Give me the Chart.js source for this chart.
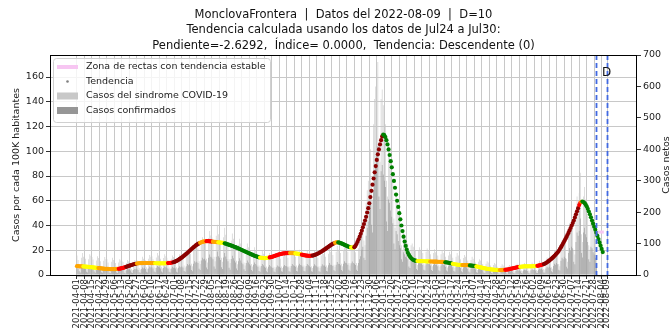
<!DOCTYPE html>
<html>
<head>
<meta charset="utf-8">
<script src="https://cdn.jsdelivr.net/npm/chart.js@4.4.1/dist/chart.umd.min.js"></script>
<style>
  body { margin: 0; background: #fff; }
</style>
</head>
<body>
<canvas id="chart" width="672" height="334"></canvas>
<script>
// day 0 of every series
const startDate = '2021-04-01';

const titleLines = [
  'MonclovaFrontera  |  Datos del 2022-08-09  |  D=10',
  'Tendencia calculada usando los datos de Jul24 a Jul30:',
  'Pendiente=-2.6292,  Índice= 0.0000,  Tendencia: Descendente (0)'
];

const tickLabels = [
  '2021-04-01','2021-04-08','2021-04-15','2021-04-22','2021-04-29','2021-05-06','2021-05-13','2021-05-20',
  '2021-05-27','2021-06-03','2021-06-10','2021-06-17','2021-06-24','2021-07-01','2021-07-08','2021-07-15',
  '2021-07-22','2021-07-29','2021-08-05','2021-08-12','2021-08-19','2021-08-26','2021-09-02','2021-09-09',
  '2021-09-16','2021-09-23','2021-09-30','2021-10-07','2021-10-14','2021-10-21','2021-10-28','2021-11-04',
  '2021-11-11','2021-11-18','2021-11-25','2021-12-02','2021-12-09','2021-12-16','2021-12-23','2021-12-30',
  '2022-01-06','2022-01-13','2022-01-20','2022-01-27','2022-02-03','2022-02-10','2022-02-17','2022-02-24',
  '2022-03-03','2022-03-10','2022-03-17','2022-03-24','2022-03-31','2022-04-07','2022-04-14','2022-04-21',
  '2022-04-28','2022-05-05','2022-05-12','2022-05-19','2022-05-26','2022-06-02','2022-06-09','2022-06-16',
  '2022-06-23','2022-06-30','2022-07-07','2022-07-14','2022-07-21','2022-07-28','2022-08-04','2022-08-09'
];

// smoothed cases per 100K, one value per day from startDate
const trendValues = [
  7.1,7.1,7.0,7.0,7.0,6.9,6.9,6.8,6.8,6.7, 6.6,6.5,6.4,6.3,6.2,6.1,6.0,5.9,5.8,5.7,
  5.6,5.5,5.4,5.3,5.2,5.1,5.0,5.0,4.9,4.9, 4.8,4.8,4.8,4.8,4.8,4.8,4.8,4.9,4.9,5.0,
  5.1,5.3,5.5,5.7,6.0,6.3,6.6,6.9,7.2,7.5, 7.8,8.1,8.4,8.7,8.9,9.1,9.3,9.4,9.5,9.6,
  9.6,9.6,9.7,9.7,9.7,9.7,9.7,9.7,9.7,9.7, 9.6,9.6,9.6,9.5,9.5,9.5,9.4,9.4,9.4,9.4,
  9.4,9.4,9.4,9.5,9.5,9.6,9.7,9.8,9.9,10.1, 10.3,10.6,11.0,11.4,11.9,12.4,13.0,13.6,14.2,14.9,
  15.6,16.3,17.0,17.8,18.6,19.4,20.2,21.0,21.8,22.5, 23.2,23.9,24.5,25.1,25.6,26.0,26.4,26.7,26.9,27.1,
  27.2,27.3,27.3,27.3,27.2,27.1,27.0,26.9,26.8,26.7, 26.6,26.5,26.4,26.3,26.2,26.1,26.0,25.8,25.6,25.3,
  25.0,24.7,24.4,24.1,23.8,23.5,23.2,22.8,22.5,22.1, 21.8,21.4,21.0,20.6,20.2,19.8,19.4,19.0,18.6,18.2,
  17.8,17.4,17.0,16.6,16.2,15.8,15.5,15.2,14.9,14.6, 14.3,14.1,13.9,13.8,13.7,13.7,13.7,13.8,13.9,14.0,
  14.2,14.4,14.6,14.9,15.2,15.5,15.8,16.1,16.4,16.7, 16.9,17.1,17.3,17.4,17.5,17.6,17.6,17.7,17.7,17.7,
  17.7,17.6,17.6,17.5,17.4,17.3,17.2,17.0,16.8,16.6, 16.4,16.2,16.0,15.8,15.7,15.6,15.5,15.5,15.5,15.6,
  15.7,15.9,16.2,16.5,16.9,17.3,17.8,18.3,18.8,19.3, 19.9,20.5,21.1,21.7,22.3,22.9,23.5,24.1,24.7,25.2,
  25.6,26.0,26.3,26.4,26.3,26.1,25.8,25.5,25.1,24.7, 24.3,23.9,23.5,23.1,22.8,22.5,22.3,22.2,22.2,22.5,
  23.5,25.0,26.8,28.8,31.0,33.3,35.8,38.5,41.2,44.0, 47.0,50.5,54.0,58.0,63.0,68.0,73.0,78.0,83.0,88.0,
  93.0,97.5,101.5,105.5,109.0,112.0,113.5,113.0,111.5,109.0, 105.5,101.5,97.0,92.0,87.0,81.5,76.0,70.5,65.0,60.0,
  55.0,50.0,45.0,40.0,35.5,31.0,27.0,23.5,20.5,18.0, 16.2,14.8,13.7,12.9,12.3,11.9,11.6,11.4,11.3,11.2,
  11.2,11.2,11.2,11.1,11.1,11.1,11.0,11.0,11.0,11.0, 10.9,10.9,10.9,10.8,10.8,10.8,10.8,10.7,10.7,10.7,
  10.6,10.6,10.5,10.4,10.3,10.2,10.1,9.9,9.7,9.5, 9.3,9.1,8.9,8.7,8.5,8.4,8.3,8.2,8.1,8.1,
  8.0,8.0,8.0,8.0,7.9,7.9,7.8,7.7,7.6,7.5, 7.4,7.3,7.1,6.9,6.7,6.5,6.3,6.1,5.9,5.7,
  5.5,5.3,5.2,5.0,4.9,4.7,4.6,4.5,4.4,4.3, 4.2,4.1,4.1,4.0,4.0,4.0,4.0,4.0,4.1,4.1,
  4.2,4.3,4.4,4.6,4.8,5.0,5.2,5.4,5.6,5.8, 6.0,6.2,6.4,6.5,6.6,6.7,6.8,6.9,7.0,7.0,
  7.0,7.0,7.0,7.0,7.0,7.0,7.1,7.1,7.2,7.3, 7.4,7.6,7.8,8.0,8.2,8.5,8.8,9.2,9.7,10.3,
  11.0,11.6,12.3,13.0,13.8,14.6,15.5,16.4,17.4,18.4, 19.5,21.0,22.5,24.0,25.6,27.2,28.9,30.6,32.3,34.0,
  36.0,38.0,40.0,42.0,44.0,46.5,49.0,51.5,54.0,56.5, 58.3,59.2,59.4,59.0,58.2,57.0,55.5,53.5,51.3,49.0,
  46.6,44.0,41.5,39.0,36.6,34.2,31.6,29.0,26.3,23.7, 21.1,18.5
];

// trend class per day, as runs [class, days]: Y stable, O slight up, R up, D strong up, G down
const trendClass = [
  ['O',6],['Y',14],['O',19],['R',7],['D',10],['O',17],['Y',12],['R',5],['D',25],
  ['O',6],['R',6],['O',5],['Y',6],['G',33],['Y',9],['R',19],['O',5],['Y',6],['R',10],
  ['D',21],['O',3],['G',12],['Y',3],['D',27],['G',32],['Y',12],['O',14],['G',7],['Y',9],
  ['O',7],['G',6],['Y',22],['O',5],['R',14],['Y',16],['R',6],['D',33],['R',2],['O',1],['G',20]
];

// daily net cases, one value per day from startDate (weeks start on Thursday)
const sindromeCases = [
  62,48,30,22,55,70,58, 60,52,25,20,50,66,61, 57,49,28,18,46,60,54, 52,44,22,17,45,57,50,
  50,40,21,15,42,55,48, 47,38,20,16,40,50,46, 45,41,18,14,38,48,44, 44,36,19,15,40,47,45,
  48,40,22,17,46,58,52, 55,47,25,20,52,64,58, 60,50,27,22,56,70,62, 58,52,26,21,54,66,60,
  55,48,24,20,52,62,57, 56,50,25,21,55,66,60, 62,55,30,24,64,80,72, 75,68,36,28,80,98,88,
  92,84,44,35,100,120,108, 112,100,52,40,118,140,126, 120,108,58,44,125,160,130, 118,104,55,42,120,150,128,
  108,95,50,38,110,132,115, 98,86,45,34,96,115,100, 86,75,40,30,84,100,88, 75,66,35,27,72,88,78,
  66,58,30,24,64,78,68, 58,52,27,21,58,70,62, 56,50,26,20,56,68,60, 58,52,27,22,60,72,64,
  62,55,28,23,64,78,68, 65,58,30,24,66,80,70, 66,58,30,24,64,78,68, 63,56,28,22,62,76,66,
  62,55,28,22,62,76,67, 66,58,30,24,68,84,74, 72,64,33,26,74,92,80, 78,70,36,28,80,98,86,
  82,74,38,30,82,96,84, 80,72,38,30,85,110,130, 160,170,110,95,230,270,300, 360,400,280,240,480,560,600,
  640,678,420,360,560,590,540, 520,480,300,250,420,400,360, 330,300,180,150,260,240,200, 180,160,95,80,140,130,115,
  110,100,55,45,95,100,90, 85,78,40,32,78,88,80, 78,70,36,30,74,84,76, 74,66,34,28,70,82,72,
  70,62,32,26,66,78,70, 66,58,30,24,62,74,66, 62,55,28,22,58,70,62, 58,50,26,20,54,64,58,
  52,46,24,18,48,58,52, 46,40,20,16,42,50,46, 40,35,18,14,36,44,40, 35,30,15,12,32,38,34,
  30,26,13,10,28,34,30, 28,24,12,10,27,32,28, 30,26,13,11,30,36,32, 32,28,14,12,32,38,34,
  34,30,15,12,34,40,36, 36,32,16,13,38,45,40, 42,38,19,15,46,56,50, 55,50,25,20,62,76,70,
  78,70,35,28,90,110,100, 115,105,52,42,135,165,150, 170,160,80,65,200,250,230, 260,325,130,105,250,280,240,
  220,190,95,80,170,160,140, 130,110,60
];

const confirmedCases = [
  25,20,12,8,22,30,24, 26,21,10,8,20,28,25, 24,20,11,7,19,26,22, 22,18,9,7,18,24,21,
  21,16,8,6,17,23,20, 19,15,8,6,16,21,19, 18,16,7,5,15,20,18, 18,14,8,6,16,19,18,
  20,16,9,7,19,24,21, 23,19,10,8,21,27,24, 25,21,11,9,23,29,26, 24,21,11,8,22,27,25,
  23,20,10,8,21,26,23, 23,21,10,8,23,28,25, 27,24,13,10,28,35,31, 34,30,16,12,36,44,40,
  42,38,20,16,46,55,50, 52,46,24,18,55,65,58, 56,50,27,20,58,75,60, 55,48,25,19,56,70,59,
  50,44,23,17,51,61,53, 45,40,21,15,44,53,46, 39,34,18,13,38,46,40, 34,30,16,12,33,40,35,
  30,26,13,10,29,35,31, 26,23,12,9,26,32,28, 25,22,11,9,25,30,27, 26,23,12,10,27,32,29,
  28,25,12,10,29,35,31, 29,26,13,11,30,36,32, 30,26,13,11,29,35,31, 28,25,12,10,28,34,30,
  28,25,12,10,28,34,30, 30,26,13,11,31,38,33, 32,29,15,12,33,41,36, 35,31,16,12,36,44,39,
  37,33,17,13,37,43,38, 36,32,17,13,38,50,60, 80,90,55,48,125,150,170, 200,230,160,135,270,320,350,
  380,410,250,210,330,350,320, 300,280,170,140,240,230,205, 185,165,100,82,140,130,108, 95,85,50,42,72,66,58,
  55,50,27,22,46,48,43, 40,37,19,15,37,41,37, 36,32,17,14,34,39,35, 34,30,16,13,32,37,33,
  32,28,15,12,30,35,32, 30,26,14,11,28,33,30, 28,25,13,10,26,31,28, 26,22,12,9,24,29,26,
  23,20,11,8,21,26,23, 20,18,9,7,18,22,20, 17,15,8,6,16,19,17, 15,13,6,5,14,16,15,
  13,11,5,4,12,15,13, 12,10,5,4,12,14,12, 13,11,6,5,13,16,14, 14,12,6,5,14,17,15,
  15,13,7,5,15,18,16, 16,14,7,6,17,20,18, 19,17,8,7,21,26,23, 26,23,12,9,29,36,33,
  38,34,17,14,45,55,50, 58,53,26,21,70,86,78, 90,85,42,34,105,135,125, 140,180,70,56,135,150,130,
  120,105,50,42,90,85,72, 65,55,30
];

// stable-trend zone and the two date markers
const stableZoneDays = ['2022-07-31', '2022-08-06'];
const stableZoneLevel = 34.7;
const markerDates = ['2022-07-30', '2022-08-09'];
const markerText = 'D';

const dayOf = s => Math.round((Date.parse(s) - Date.parse(startDate)) / 86400000);
const tickDays = tickLabels.map(dayOf);
const trendColors = { Y: '#ffff00', O: '#ffa500', R: '#ff0000', D: '#8b0000', G: '#008000' };
const pointColors = trendClass.flatMap(([c, n]) => Array(n).fill(trendColors[c]));

Chart.defaults.font.family = "'DejaVu Sans', sans-serif";
Chart.defaults.font.size = 9.5;
Chart.defaults.color = '#222';

const overlay = {
  id: 'overlay',
  afterDatasetsDraw(chart) {
    const { ctx, chartArea: a, scales: { x } } = chart;
    ctx.save();
    // daily minor ticks
    ctx.strokeStyle = '#444';
    ctx.lineWidth = 0.5;
    for (let d = 0; d <= tickDays[tickDays.length - 1]; d++) {
      const px = x.getPixelForValue(d);
      ctx.beginPath();
      ctx.moveTo(px, a.bottom);
      ctx.lineTo(px, a.bottom + 2);
      ctx.stroke();
    }
    // dashed markers
    ctx.strokeStyle = '#4169e1';
    ctx.lineWidth = 1.8;
    ctx.setLineDash([5, 3]);
    markerDates.forEach(s => {
      const px = Math.round(x.getPixelForValue(dayOf(s))) + 0.5;
      ctx.beginPath();
      ctx.moveTo(px, a.top);
      ctx.lineTo(px, a.bottom);
      ctx.stroke();
    });
    ctx.setLineDash([]);
    ctx.fillStyle = '#111';
    ctx.font = "12px 'DejaVu Sans'";
    ctx.textBaseline = 'middle';
    ctx.textAlign = 'left';
    ctx.fillText(markerText, x.getPixelForValue(dayOf(markerDates[1])) - 5, a.top + 18);
    // frame
    ctx.strokeStyle = '#000';
    ctx.lineWidth = 1;
    ctx.strokeRect(a.left + 0.5, a.top + 0.5, a.right - a.left - 1, a.bottom - a.top);
    ctx.restore();
  },
  afterDraw(chart) {
    const { ctx, chartArea: a } = chart;
    ctx.save();
    // title
    ctx.fillStyle = '#111';
    ctx.font = "11.5px 'DejaVu Sans'";
    ctx.textAlign = 'center';
    ctx.textBaseline = 'middle';
    const cx = (a.left + a.right) / 2;
    titleLines.forEach((t, i) => ctx.fillText(t, cx, 15 + i * 15.5));
    // axis titles
    ctx.font = "9.5px 'DejaVu Sans'";
    ctx.fillStyle = '#222';
    ctx.translate(17, (a.top + a.bottom) / 2);
    ctx.rotate(-Math.PI / 2);
    ctx.fillText('Casos por cada 100K habitantes', 0, 0);
    ctx.setTransform(1, 0, 0, 1, 0, 0);
    ctx.translate(667, (a.top + a.bottom) / 2);
    ctx.rotate(-Math.PI / 2);
    ctx.fillText('Casos netos', 0, 0);
    ctx.setTransform(1, 0, 0, 1, 0, 0);
    // legend
    const lx = a.left + 3, ly = a.top + 3, lw = 217, lh = 64;
    ctx.fillStyle = 'rgba(255,255,255,0.8)';
    ctx.strokeStyle = '#d0d0d0';
    ctx.lineWidth = 1;
    ctx.beginPath();
    ctx.roundRect(lx + 0.5, ly + 0.5, lw, lh, 3);
    ctx.fill();
    ctx.stroke();
    const rows = [
      'Zona de rectas con tendencia estable',
      'Tendencia',
      'Casos del sindrome COVID-19',
      'Casos confirmados'
    ];
    const hx = lx + 4, hw = 21;
    rows.forEach((t, i) => {
      const y = ly + 9 + i * 14.5;
      if (i === 0) {
        ctx.strokeStyle = '#f7c6f2';
        ctx.lineWidth = 4;
        ctx.beginPath();
        ctx.moveTo(hx, y);
        ctx.lineTo(hx + hw, y);
        ctx.stroke();
      } else if (i === 1) {
        ctx.fillStyle = '#808080';
        ctx.beginPath();
        ctx.arc(hx + hw / 2, y, 1.3, 0, Math.PI * 2);
        ctx.fill();
      } else {
        ctx.fillStyle = i === 2 ? '#c8c8c8' : '#969696';
        ctx.fillRect(hx, y - 3.5, hw, 7);
      }
      ctx.fillStyle = '#222';
      ctx.textAlign = 'left';
      ctx.fillText(t, hx + hw + 8, y);
    });
    ctx.restore();
  }
};

new Chart(document.getElementById('chart'), {
  type: 'bar',
  data: {
    datasets: [
      {
        type: 'line',
        label: 'Zona de rectas con tendencia estable',
        data: stableZoneDays.map(s => ({ x: dayOf(s), y: stableZoneLevel })),
        yAxisID: 'y',
        borderColor: '#f7c6f2',
        borderWidth: 3,
        pointRadius: 0,
        order: 0
      },
      {
        type: 'line',
        label: 'Tendencia',
        data: trendValues.map((v, i) => ({ x: i, y: v })),
        yAxisID: 'y',
        showLine: false,
        pointRadius: 2.1,
        pointHoverRadius: 0,
        pointBorderWidth: 0,
        pointBackgroundColor: pointColors,
        order: 1
      },
      {
        label: 'Casos confirmados',
        data: confirmedCases.map((v, i) => ({ x: i, y: v })),
        yAxisID: 'y2',
        backgroundColor: '#969696',
        grouped: false,
        barPercentage: 0.55,
        categoryPercentage: 1,
        order: 2
      },
      {
        label: 'Casos del sindrome COVID-19',
        data: sindromeCases.map((v, i) => ({ x: i, y: v })),
        yAxisID: 'y2',
        backgroundColor: '#c8c8c8',
        grouped: false,
        barPercentage: 0.55,
        categoryPercentage: 1,
        order: 3
      }
    ]
  },
  options: {
    responsive: false,
    animation: false,
    layout: { padding: { top: 55, left: 0, right: 0, bottom: 0 } },
    plugins: {
      legend: { display: false },
      tooltip: { enabled: false },
      title: { display: false }
    },
    scales: {
      x: {
        type: 'linear',
        min: -25.2,
        max: 523,
        offset: false,
        grid: { offset: false, color: '#c8c8c8', tickLength: 4, tickColor: '#333' },
        border: { display: false },
        afterBuildTicks: s => { s.ticks = tickDays.map(v => ({ value: v })); },
        afterFit: s => { s.height = 59; },
        ticks: {
          autoSkip: false,
          minRotation: 90,
          maxRotation: 90,
          padding: 0,
          font: { size: 8.5 },
          callback: (v, i) => tickLabels[i]
        }
      },
      y: {
        position: 'left',
        min: 0,
        max: 177.8,
        grid: { color: '#c8c8c8', tickLength: 4, tickColor: '#333' },
        border: { display: false },
        afterBuildTicks: s => { s.ticks = s.ticks.filter(t => t.value % 20 === 0); },
        afterFit: s => { s.width = 50; },
        ticks: { stepSize: 20, padding: 2 }
      },
      y2: {
        position: 'right',
        min: 0,
        max: 700,
        grid: { drawOnChartArea: false, tickLength: 4, tickColor: '#333' },
        border: { display: false },
        afterFit: s => { s.width = 35; },
        ticks: { stepSize: 100, padding: 2 }
      }
    }
  },
  plugins: [overlay]
});
</script>
</body>
</html>
